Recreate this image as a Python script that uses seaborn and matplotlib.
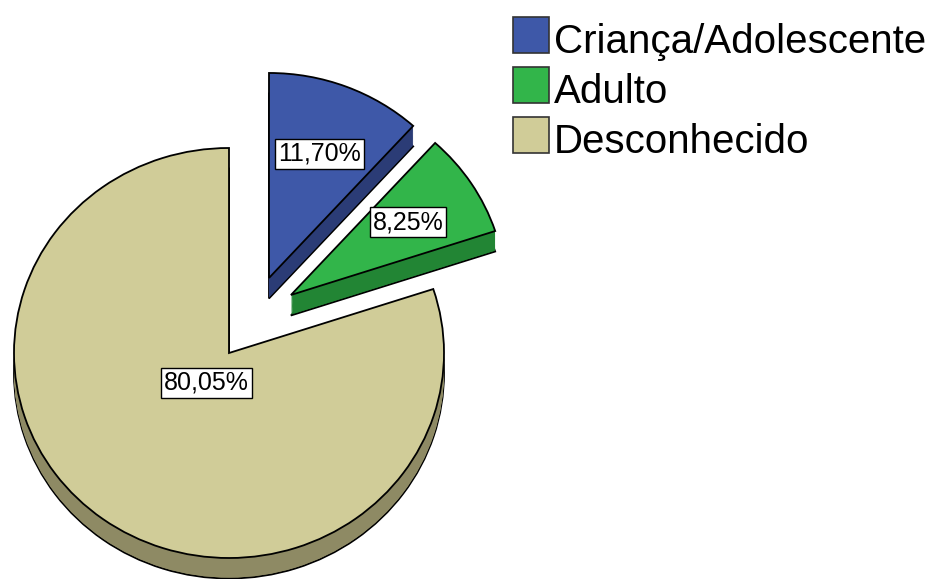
import numpy as np
import matplotlib
matplotlib.use("Agg")
import matplotlib.pyplot as plt
from matplotlib.patches import Rectangle
import seaborn as sns

# data
categories = ["Criança/Adolescente", "Adulto", "Desconhecido"]
percent = [11.70, 8.25, 80.05]
pct_text = ["11,70%", "8,25%", "80,05%"]

top_colors = ["#3e58a8", "#32b54a", "#d0cc98"]
side_colors = ["#2b3c76", "#228534", "#8e8a64"]

sns.set_theme(style="white")
plt.rcParams['font.family'] = ['Liberation Sans', 'DejaVu Sans']
plt.rcParams['text.color'] = 'black'

W, H = 932, 579
fig = plt.figure(figsize=(W / 100, H / 100), dpi=100)
ax = fig.add_axes([0, 0, 1, 1])

# pixel geometry of the pie (centre, radii), used to set the axes limits
cx, cy = 229, 353
rx, ry = 215, 205
# explode offsets per slice (data units)
offsets = [(0.186, 0.366), (0.288, 0.283), (0.0, 0.0)]
depth = 0.10
n_layers = 24


def draw(dz, colors, edge, lw):
    wedges, _ = ax.pie(percent, startangle=90, counterclock=False, colors=colors,
                       radius=1, wedgeprops=dict(edgecolor=edge, linewidth=lw))
    for w, (ox, oy) in zip(wedges, offsets):
        w.set_center((ox, oy - dz))
    return wedges


# side of the 3d pie: stacked copies shifted down
draw(depth, side_colors, "black", 1.3)
for dz in np.linspace(depth, 0, n_layers)[1:-1]:
    draw(dz, side_colors, "none", 0)
wedges = draw(0, top_colors, "black", 1.3)

# percentage labels
dist = [0.65, 0.65, 0.18]
for w, (ox, oy), txt, d in zip(wedges, offsets, pct_text, dist):
    mid = np.deg2rad((w.theta1 + w.theta2) / 2)
    ax.text(ox + d * np.cos(mid), oy + d * np.sin(mid), txt, fontsize=18,
            ha="center", va="center", color="black",
            bbox=dict(boxstyle="square,pad=0.12", fc="white", ec="black", lw=1))

ax.set_aspect("auto")
ax.set_xlim(-cx / rx, (W - cx) / rx)
ax.set_ylim((cy - H) / ry, cy / ry)
ax.axis("off")

# legend (square swatch + label per row)
lx, ly, box, pitch = 513, 53, 36, 50
for i, (cat, col) in enumerate(zip(categories, top_colors)):
    yb = ly + i * pitch
    fig.patches.append(Rectangle((lx / W, 1 - yb / H), box / W, box / H,
                                 transform=fig.transFigure, facecolor=col,
                                 edgecolor="#333333", linewidth=1.2))
    fig.text((lx + box + 5) / W, 1 - yb / H, cat, fontsize=29, color="black",
             ha="left", va="baseline")

fig.savefig("out.png", dpi=100)
